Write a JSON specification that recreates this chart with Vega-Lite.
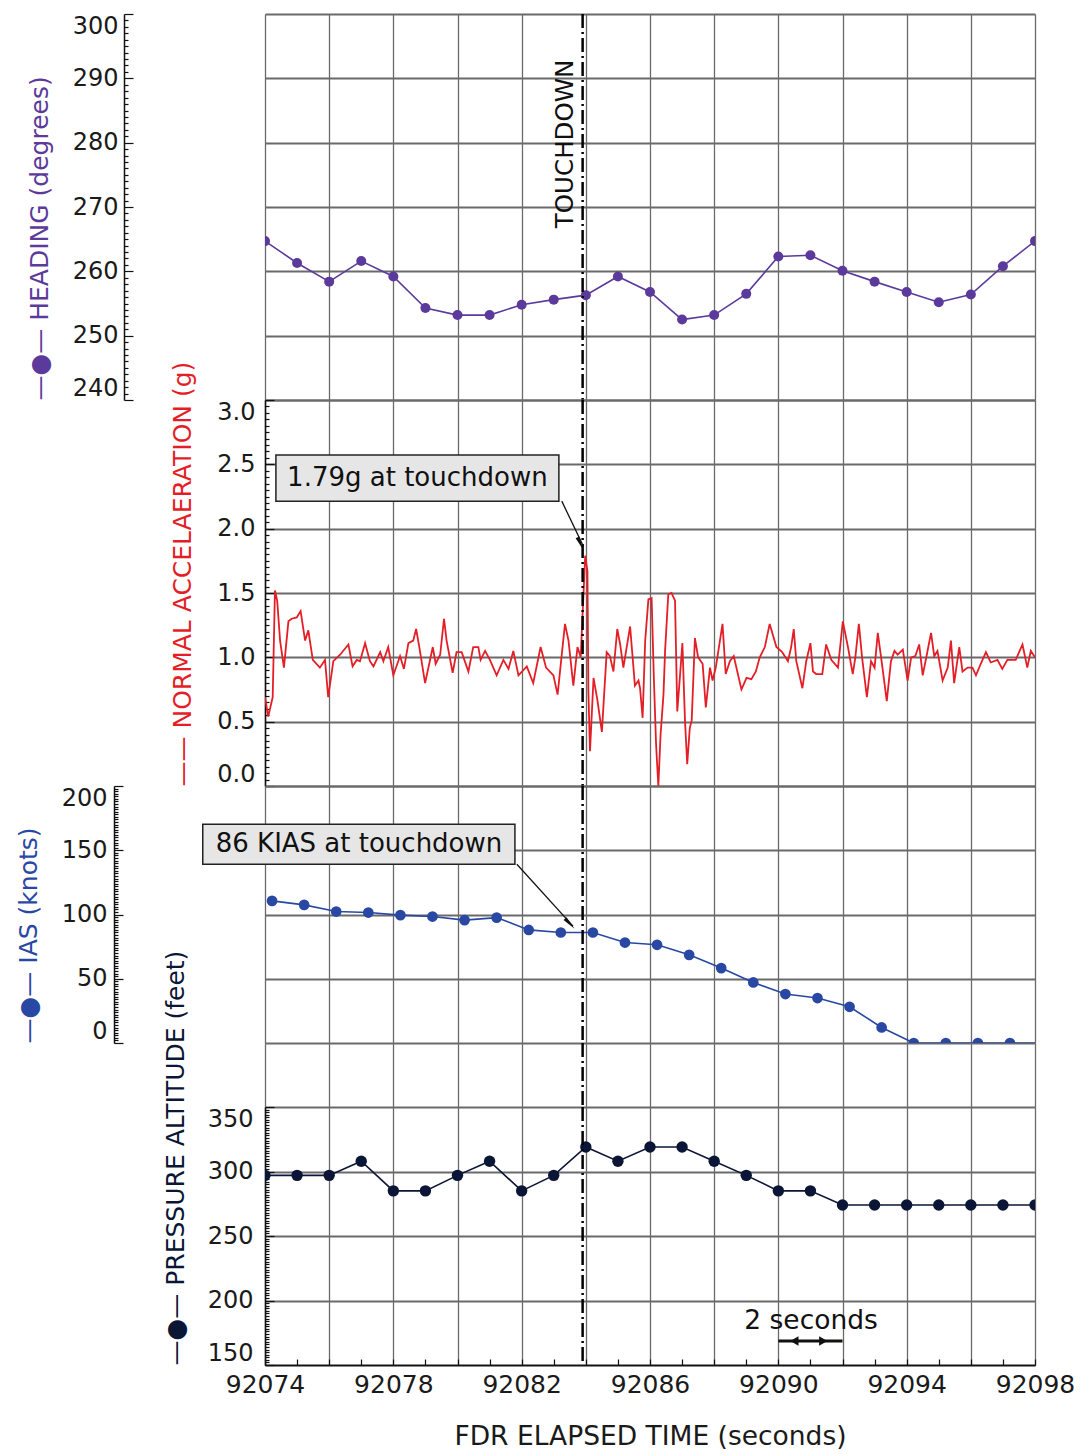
{
  "$schema": "https://vega.github.io/schema/vega-lite/v6.json",
  "background": "white",
  "padding": {"left": 16, "top": 8, "right": 0, "bottom": 0},
  "autosize": {"type": "pad"},
  "spacing": 0,
  "bounds": "flush",
  "config": {
    "font": "DejaVu Sans",
    "view": {"stroke": null},
    "axis": {
      "labelFont": "DejaVu Sans",
      "titleFont": "DejaVu Sans",
      "labelFontSize": 24,
      "titleFontSize": 25,
      "titleFontWeight": "normal",
      "labelColor": "#1a1a1a",
      "domainColor": "#111111",
      "domainWidth": 1.5,
      "tickColor": "#111111",
      "tickWidth": 1.2,
      "gridColor": "#6a6a6a",
      "labelOverlap": false,
      "labelBound": false
    },
    "text": {"font": "DejaVu Sans"}
  },
  "datasets": {
    "heading": [
      {"t": 92074, "v": 264.7}, {"t": 92075, "v": 261.3}, {"t": 92076, "v": 258.4}, {"t": 92077, "v": 261.6},
      {"t": 92078, "v": 259.2}, {"t": 92079, "v": 254.3}, {"t": 92080, "v": 253.2}, {"t": 92081, "v": 253.2},
      {"t": 92082, "v": 254.8}, {"t": 92083, "v": 255.6}, {"t": 92084, "v": 256.3}, {"t": 92085, "v": 259.2},
      {"t": 92086, "v": 256.8}, {"t": 92087, "v": 252.5}, {"t": 92088, "v": 253.2}, {"t": 92089, "v": 256.5},
      {"t": 92090, "v": 262.3}, {"t": 92091, "v": 262.5}, {"t": 92092, "v": 260.1}, {"t": 92093, "v": 258.4},
      {"t": 92094, "v": 256.8}, {"t": 92095, "v": 255.2}, {"t": 92096, "v": 256.4}, {"t": 92097, "v": 260.8},
      {"t": 92098, "v": 264.7}
    ],
    "accel": [
      {"t": 92074.00, "v": 0.69}, {"t": 92074.10, "v": 0.54}, {"t": 92074.24, "v": 0.69}, {"t": 92074.31, "v": 1.52},
      {"t": 92074.38, "v": 1.44}, {"t": 92074.47, "v": 1.13}, {"t": 92074.59, "v": 0.92}, {"t": 92074.73, "v": 1.28},
      {"t": 92074.83, "v": 1.30}, {"t": 92074.99, "v": 1.31}, {"t": 92075.11, "v": 1.36}, {"t": 92075.25, "v": 1.13},
      {"t": 92075.35, "v": 1.21}, {"t": 92075.49, "v": 0.98}, {"t": 92075.71, "v": 0.92}, {"t": 92075.87, "v": 0.98},
      {"t": 92075.97, "v": 0.69}, {"t": 92076.13, "v": 0.97}, {"t": 92076.34, "v": 1.02}, {"t": 92076.60, "v": 1.10},
      {"t": 92076.73, "v": 0.93}, {"t": 92076.86, "v": 0.98}, {"t": 92076.96, "v": 0.97}, {"t": 92077.12, "v": 1.11},
      {"t": 92077.27, "v": 0.97}, {"t": 92077.38, "v": 0.93}, {"t": 92077.59, "v": 1.04}, {"t": 92077.69, "v": 0.97},
      {"t": 92077.84, "v": 1.08}, {"t": 92078.00, "v": 0.86}, {"t": 92078.21, "v": 1.01}, {"t": 92078.33, "v": 0.91},
      {"t": 92078.47, "v": 1.11}, {"t": 92078.62, "v": 1.13}, {"t": 92078.71, "v": 1.22}, {"t": 92078.81, "v": 1.08},
      {"t": 92078.99, "v": 0.80}, {"t": 92079.23, "v": 1.08}, {"t": 92079.32, "v": 0.95}, {"t": 92079.46, "v": 1.02},
      {"t": 92079.58, "v": 1.30}, {"t": 92079.66, "v": 1.13}, {"t": 92079.85, "v": 0.88}, {"t": 92079.97, "v": 1.04},
      {"t": 92080.13, "v": 1.04}, {"t": 92080.34, "v": 0.89}, {"t": 92080.49, "v": 1.08}, {"t": 92080.65, "v": 1.08},
      {"t": 92080.72, "v": 0.98}, {"t": 92080.86, "v": 1.05}, {"t": 92081.01, "v": 0.98}, {"t": 92081.22, "v": 0.86},
      {"t": 92081.43, "v": 0.98}, {"t": 92081.59, "v": 0.91}, {"t": 92081.74, "v": 1.05}, {"t": 92081.90, "v": 0.86},
      {"t": 92082.16, "v": 0.93}, {"t": 92082.36, "v": 0.80}, {"t": 92082.59, "v": 1.08}, {"t": 92082.76, "v": 0.92},
      {"t": 92082.99, "v": 0.86}, {"t": 92083.12, "v": 0.71}, {"t": 92083.35, "v": 1.26}, {"t": 92083.46, "v": 1.13},
      {"t": 92083.61, "v": 0.78}, {"t": 92083.74, "v": 1.08}, {"t": 92083.84, "v": 1.00}, {"t": 92083.98, "v": 1.79},
      {"t": 92084.05, "v": 1.67}, {"t": 92084.08, "v": 0.73}, {"t": 92084.13, "v": 0.27}, {"t": 92084.24, "v": 0.84},
      {"t": 92084.36, "v": 0.67}, {"t": 92084.50, "v": 0.42}, {"t": 92084.65, "v": 1.04}, {"t": 92084.75, "v": 1.01},
      {"t": 92084.86, "v": 0.89}, {"t": 92084.98, "v": 1.22}, {"t": 92085.07, "v": 1.10}, {"t": 92085.17, "v": 0.92},
      {"t": 92085.38, "v": 1.24}, {"t": 92085.53, "v": 0.78}, {"t": 92085.64, "v": 0.82}, {"t": 92085.69, "v": 0.76},
      {"t": 92085.77, "v": 0.53}, {"t": 92085.85, "v": 1.13}, {"t": 92085.95, "v": 1.45}, {"t": 92086.05, "v": 1.46},
      {"t": 92086.12, "v": 0.84}, {"t": 92086.19, "v": 0.32}, {"t": 92086.26, "v": 0.00}, {"t": 92086.33, "v": 0.40},
      {"t": 92086.42, "v": 0.71}, {"t": 92086.47, "v": 1.05}, {"t": 92086.57, "v": 1.49}, {"t": 92086.67, "v": 1.50},
      {"t": 92086.78, "v": 1.44}, {"t": 92086.85, "v": 0.58}, {"t": 92086.93, "v": 0.84}, {"t": 92087.01, "v": 1.11},
      {"t": 92087.09, "v": 0.51}, {"t": 92087.16, "v": 0.17}, {"t": 92087.24, "v": 0.45}, {"t": 92087.30, "v": 0.51},
      {"t": 92087.40, "v": 1.15}, {"t": 92087.50, "v": 1.00}, {"t": 92087.64, "v": 0.95}, {"t": 92087.74, "v": 0.61},
      {"t": 92087.87, "v": 0.92}, {"t": 92087.95, "v": 0.82}, {"t": 92088.05, "v": 0.92}, {"t": 92088.18, "v": 1.13},
      {"t": 92088.26, "v": 1.26}, {"t": 92088.36, "v": 0.87}, {"t": 92088.49, "v": 0.97}, {"t": 92088.61, "v": 1.01},
      {"t": 92088.85, "v": 0.75}, {"t": 92089.01, "v": 0.84}, {"t": 92089.16, "v": 0.83}, {"t": 92089.30, "v": 0.89},
      {"t": 92089.42, "v": 1.00}, {"t": 92089.58, "v": 1.08}, {"t": 92089.73, "v": 1.26}, {"t": 92089.94, "v": 1.08},
      {"t": 92090.12, "v": 1.04}, {"t": 92090.30, "v": 0.97}, {"t": 92090.40, "v": 1.08}, {"t": 92090.48, "v": 1.22},
      {"t": 92090.56, "v": 0.97}, {"t": 92090.75, "v": 0.76}, {"t": 92090.87, "v": 0.97}, {"t": 92091.00, "v": 1.11},
      {"t": 92091.08, "v": 0.89}, {"t": 92091.18, "v": 0.87}, {"t": 92091.37, "v": 0.87}, {"t": 92091.49, "v": 1.10},
      {"t": 92091.65, "v": 0.98}, {"t": 92091.86, "v": 0.92}, {"t": 92092.01, "v": 1.28}, {"t": 92092.17, "v": 1.08},
      {"t": 92092.32, "v": 0.87}, {"t": 92092.40, "v": 1.00}, {"t": 92092.51, "v": 1.26}, {"t": 92092.61, "v": 1.00},
      {"t": 92092.76, "v": 0.69}, {"t": 92092.89, "v": 0.97}, {"t": 92093.00, "v": 0.92}, {"t": 92093.10, "v": 1.19},
      {"t": 92093.23, "v": 0.95}, {"t": 92093.38, "v": 0.66}, {"t": 92093.51, "v": 0.97}, {"t": 92093.62, "v": 1.05},
      {"t": 92093.72, "v": 1.02}, {"t": 92093.88, "v": 1.06}, {"t": 92094.03, "v": 0.82}, {"t": 92094.14, "v": 1.00},
      {"t": 92094.27, "v": 1.01}, {"t": 92094.39, "v": 1.10}, {"t": 92094.50, "v": 0.86}, {"t": 92094.62, "v": 1.01},
      {"t": 92094.76, "v": 1.19}, {"t": 92094.86, "v": 1.01}, {"t": 92094.96, "v": 1.05}, {"t": 92095.12, "v": 0.82},
      {"t": 92095.28, "v": 0.92}, {"t": 92095.38, "v": 1.13}, {"t": 92095.48, "v": 0.80}, {"t": 92095.64, "v": 1.08},
      {"t": 92095.74, "v": 0.89}, {"t": 92095.90, "v": 0.92}, {"t": 92096.05, "v": 0.92}, {"t": 92096.16, "v": 0.86},
      {"t": 92096.31, "v": 0.95}, {"t": 92096.47, "v": 1.04}, {"t": 92096.62, "v": 0.96}, {"t": 92096.83, "v": 0.98},
      {"t": 92096.98, "v": 0.91}, {"t": 92097.14, "v": 0.98}, {"t": 92097.40, "v": 0.98}, {"t": 92097.61, "v": 1.10},
      {"t": 92097.76, "v": 0.92}, {"t": 92097.87, "v": 1.05}, {"t": 92098.00, "v": 1.00}
    ],
    "ias": [
      {"t": 92074.22, "v": 110.6}, {"t": 92075.22, "v": 107.5}, {"t": 92076.22, "v": 102.3}, {"t": 92077.22, "v": 101.5},
      {"t": 92078.22, "v": 99.5}, {"t": 92079.22, "v": 98.4}, {"t": 92080.22, "v": 95.6}, {"t": 92081.22, "v": 97.6},
      {"t": 92082.22, "v": 88.0}, {"t": 92083.22, "v": 86.0}, {"t": 92084.22, "v": 86.0}, {"t": 92085.22, "v": 78.2},
      {"t": 92086.22, "v": 76.4}, {"t": 92087.22, "v": 68.6}, {"t": 92088.22, "v": 58.3}, {"t": 92089.22, "v": 47.1},
      {"t": 92090.22, "v": 38.1}, {"t": 92091.22, "v": 35.0}, {"t": 92092.22, "v": 28.2}, {"t": 92093.22, "v": 12.1},
      {"t": 92094.22, "v": 0}, {"t": 92095.22, "v": 0}, {"t": 92096.22, "v": 0}, {"t": 92097.22, "v": 0},
      {"t": 92098.22, "v": 0}
    ],
    "alt": [
      {"t": 92074, "v": 297}, {"t": 92075, "v": 297}, {"t": 92076, "v": 297}, {"t": 92077, "v": 308},
      {"t": 92078, "v": 285}, {"t": 92079, "v": 285}, {"t": 92080, "v": 297}, {"t": 92081, "v": 308},
      {"t": 92082, "v": 285}, {"t": 92083, "v": 297}, {"t": 92084, "v": 319}, {"t": 92085, "v": 308},
      {"t": 92086, "v": 319}, {"t": 92087, "v": 319}, {"t": 92088, "v": 308}, {"t": 92089, "v": 297},
      {"t": 92090, "v": 285}, {"t": 92091, "v": 285}, {"t": 92092, "v": 274}, {"t": 92093, "v": 274},
      {"t": 92094, "v": 274}, {"t": 92095, "v": 274}, {"t": 92096, "v": 274}, {"t": 92097, "v": 274},
      {"t": 92098, "v": 274}
    ],
    "td": [{"t": 92083.9}]
  },
  "vconcat": [
    {
      "width": 770,
      "height": 386,
      "layer": [
        {
          "data": {"name": "heading"},
          "mark": {"type": "line", "color": "#5b3a9b", "strokeWidth": 1.6, "clip": true, "point": {"filled": true, "size": 100, "color": "#5b3a9b"}},
          "encoding": {
            "x": {"field": "t", "type": "quantitative", "scale": {"domain": [92074, 92098], "nice": false, "zero": false},
              "axis": {"title": null, "labels": false, "ticks": false, "domain": false, "tickCount": 12, "grid": true, "gridWidth": 1.3}},
            "y": {"field": "v", "type": "quantitative", "scale": {"domain": [240, 300], "nice": false, "zero": false},
              "axis": {
                "title": "—●— HEADING (degrees)", "titleColor": "#5b3a9b", "titleAnchor": "start", "titlePadding": 20,
                "offset": 141, "tickCount": 60, "labelExpr": "datum.value % 10 === 0 ? datum.label : ''",
                "labelFlush": true, "labelPadding": 15,
                "tickSize": {"condition": {"test": "datum.value % 10 === 0", "value": -9}, "value": -4},
                "grid": true, "gridWidth": 2,
                "gridOpacity": {"condition": {"test": "datum.value % 10 === 0", "value": 1}, "value": 0}
              }}
          }
        },
        {
          "data": {"name": "td"},
          "mark": {"type": "rule", "color": "#000000", "strokeWidth": 2.5, "strokeDash": [14, 4, 2, 4]},
          "encoding": {"x": {"field": "t", "type": "quantitative"}}
        },
        {
          "data": {"values": [{"t": 92083.38, "v": 279.8, "label": "TOUCHDOWN"}]},
          "mark": {"type": "text", "angle": 270, "fontSize": 24.5, "color": "#111111", "align": "center", "baseline": "middle"},
          "encoding": {
            "x": {"field": "t", "type": "quantitative"},
            "y": {"field": "v", "type": "quantitative"},
            "text": {"field": "label"}
          }
        }
      ]
    },
    {
      "width": 770,
      "height": 386,
      "layer": [
        {
          "data": {"name": "accel"},
          "mark": {"type": "line", "color": "#e41e26", "strokeWidth": 1.8, "clip": true},
          "encoding": {
            "x": {"field": "t", "type": "quantitative", "scale": {"domain": [92074, 92098], "nice": false, "zero": false},
              "axis": {"title": null, "labels": false, "ticks": false, "domain": false, "tickCount": 12, "grid": true, "gridWidth": 1.3}},
            "y": {"field": "v", "type": "quantitative", "scale": {"domain": [0, 3], "nice": false, "zero": false},
              "axis": {
                "title": "—— NORMAL ACCELAERATION (g)", "titleColor": "#e41e26", "titleAnchor": "start", "titlePadding": 21,
                "offset": 0, "tickCount": 60, "format": ".1f",
                "labelExpr": "abs(datum.value * 2 - round(datum.value * 2)) < 0.000001 ? datum.label : ''",
                "labelFlush": true, "labelPadding": 19,
                "tickSize": {"condition": {"test": "abs(datum.value * 2 - round(datum.value * 2)) < 0.000001", "value": -9}, "value": -4},
                "grid": true, "gridWidth": 2,
                "gridOpacity": {"condition": {"test": "abs(datum.value * 2 - round(datum.value * 2)) < 0.000001", "value": 1}, "value": 0}
              }}
          }
        },
        {
          "data": {"name": "td"},
          "mark": {"type": "rule", "color": "#000000", "strokeWidth": 2.5, "strokeDash": [14, 4, 2, 4]},
          "encoding": {"x": {"field": "t", "type": "quantitative"}}
        },
        {
          "data": {"values": [{"t": 92074.34, "t2": 92083.16, "v": 2.572, "v2": 2.214}]},
          "mark": {"type": "rect", "fill": "#e6e6e6", "stroke": "#222222", "strokeWidth": 1.5},
          "encoding": {
            "x": {"field": "t", "type": "quantitative"}, "x2": {"field": "t2"},
            "y": {"field": "v", "type": "quantitative"}, "y2": {"field": "v2"}
          }
        },
        {
          "data": {"values": [{"t": 92078.75, "v": 2.393, "label": "1.79g at touchdown"}]},
          "mark": {"type": "text", "fontSize": 26, "color": "#111111", "align": "center", "baseline": "middle"},
          "encoding": {
            "x": {"field": "t", "type": "quantitative"},
            "y": {"field": "v", "type": "quantitative"},
            "text": {"field": "label"}
          }
        },
        {
          "data": {"values": [{"t": 92083.25, "t2": 92083.93, "v": 2.214, "v2": 1.86}]},
          "mark": {"type": "rule", "color": "#111111", "strokeWidth": 1.3},
          "encoding": {
            "x": {"field": "t", "type": "quantitative"}, "x2": {"field": "t2"},
            "y": {"field": "v", "type": "quantitative"}, "y2": {"field": "v2"}
          }
        },
        {
          "data": {"values": [{"t": 92083.80, "v": 1.90}]},
          "mark": {"type": "point", "shape": "wedge", "filled": true, "color": "#111111", "size": 260, "angle": 155, "opacity": 1},
          "encoding": {
            "x": {"field": "t", "type": "quantitative"},
            "y": {"field": "v", "type": "quantitative"}
          }
        }
      ]
    },
    {
      "width": 770,
      "height": 257,
      "layer": [
        {
          "data": {"name": "ias"},
          "mark": {"type": "line", "color": "#2948a3", "strokeWidth": 1.6, "clip": true, "point": {"filled": true, "size": 115, "color": "#2948a3"}},
          "encoding": {
            "x": {"field": "t", "type": "quantitative", "scale": {"domain": [92074, 92098], "nice": false, "zero": false},
              "axis": {"title": null, "labels": false, "ticks": false, "domain": false, "tickCount": 12, "grid": true, "gridWidth": 1.3}},
            "y": {"field": "v", "type": "quantitative", "scale": {"domain": [0, 200], "nice": false, "zero": false},
              "axis": {
                "title": "—●— IAS (knots)", "titleColor": "#2948a3", "titleAnchor": "start", "titlePadding": 20,
                "offset": 151, "tickCount": 100, "labelExpr": "datum.value % 50 === 0 ? datum.label : ''",
                "labelFlush": true, "labelPadding": 16,
                "tickSize": {"condition": {"test": "datum.value % 50 === 0", "value": -9}, "value": -4},
                "grid": true, "gridWidth": 2,
                "gridOpacity": {"condition": {"test": "datum.value % 50 === 0", "value": 1}, "value": 0}
              }}
          }
        },
        {
          "data": {"name": "td"},
          "mark": {"type": "rule", "color": "#000000", "strokeWidth": 2.5, "strokeDash": [14, 4, 2, 4]},
          "encoding": {"x": {"field": "t", "type": "quantitative"}}
        },
        {
          "data": {"values": [{"t": 92072.06, "t2": 92081.79, "v": 170.2, "v2": 139.1}]},
          "mark": {"type": "rect", "fill": "#e6e6e6", "stroke": "#222222", "strokeWidth": 1.5},
          "encoding": {
            "x": {"field": "t", "type": "quantitative"}, "x2": {"field": "t2"},
            "y": {"field": "v", "type": "quantitative"}, "y2": {"field": "v2"}
          }
        },
        {
          "data": {"values": [{"t": 92076.93, "v": 154.6, "label": "86 KIAS at touchdown"}]},
          "mark": {"type": "text", "fontSize": 26, "color": "#111111", "align": "center", "baseline": "middle"},
          "encoding": {
            "x": {"field": "t", "type": "quantitative"},
            "y": {"field": "v", "type": "quantitative"},
            "text": {"field": "label"}
          }
        },
        {
          "data": {"values": [{"t": 92081.85, "t2": 92083.6, "v": 139.1, "v2": 91.0}]},
          "mark": {"type": "rule", "color": "#111111", "strokeWidth": 1.3},
          "encoding": {
            "x": {"field": "t", "type": "quantitative"}, "x2": {"field": "t2"},
            "y": {"field": "v", "type": "quantitative"}, "y2": {"field": "v2"}
          }
        },
        {
          "data": {"values": [{"t": 92083.45, "v": 94.2}]},
          "mark": {"type": "point", "shape": "wedge", "filled": true, "color": "#111111", "size": 260, "angle": 137, "opacity": 1},
          "encoding": {
            "x": {"field": "t", "type": "quantitative"},
            "y": {"field": "v", "type": "quantitative"}
          }
        }
      ]
    },
    {
      "width": 770,
      "height": 64,
      "data": {"name": "td"},
      "mark": {"type": "rule", "color": "#000000", "strokeWidth": 2.5, "strokeDash": [14, 4, 2, 4]},
      "encoding": {
        "x": {"field": "t", "type": "quantitative", "scale": {"domain": [92074, 92098], "nice": false, "zero": false},
          "axis": {"title": null, "labels": false, "ticks": false, "domain": false, "tickCount": 12, "grid": true, "gridWidth": 1.3}}
      }
    },
    {
      "width": 770,
      "height": 258,
      "layer": [
        {
          "data": {"name": "alt"},
          "mark": {"type": "line", "color": "#0b1535", "strokeWidth": 1.6, "clip": true, "point": {"filled": true, "size": 130, "color": "#0b1535"}},
          "encoding": {
            "x": {"field": "t", "type": "quantitative", "scale": {"domain": [92074, 92098], "nice": false, "zero": false},
              "axis": {
                "title": "FDR ELAPSED TIME (seconds)", "titlePadding": 26, "titleColor": "#1a1a1a", "titleFontSize": 26.5,
                "tickCount": 120, "format": "d", "labelExpr": "datum.value % 4 === 2 ? datum.label : ''",
                "labelFontSize": 25, "labelPadding": 13, "labelFlush": false,
                "tickSize": {"condition": {"test": "datum.value % 1 === 0", "value": -6}, "value": -3},
                "grid": true, "gridWidth": 1.3,
                "gridOpacity": {"condition": {"test": "datum.value % 2 === 0", "value": 1}, "value": 0}
              }},
            "y": {"field": "v", "type": "quantitative", "scale": {"domain": [150, 350], "nice": false, "zero": false},
              "axis": {
                "title": "—●— PRESSURE ALTITUDE (feet)", "titleColor": "#0b1535", "titleAnchor": "start", "titlePadding": 19,
                "offset": 0, "tickCount": 100, "labelExpr": "datum.value % 50 === 0 ? datum.label : ''",
                "labelFlush": true, "labelPadding": 21,
                "tickSize": {"condition": {"test": "datum.value % 50 === 0", "value": -9}, "value": -4},
                "grid": true, "gridWidth": 2,
                "gridOpacity": {"condition": {"test": "datum.value % 50 === 0", "value": 1}, "value": 0}
              }}
          }
        },
        {
          "data": {"name": "td"},
          "mark": {"type": "rule", "color": "#000000", "strokeWidth": 2.5, "strokeDash": [14, 4, 2, 4]},
          "encoding": {"x": {"field": "t", "type": "quantitative"}}
        },
        {
          "data": {"values": [{"t": 92091.02, "v": 184.1, "label": "2 seconds"}]},
          "mark": {"type": "text", "fontSize": 26.5, "color": "#111111", "align": "center", "baseline": "middle"},
          "encoding": {
            "x": {"field": "t", "type": "quantitative"},
            "y": {"field": "v", "type": "quantitative"},
            "text": {"field": "label"}
          }
        },
        {
          "data": {"values": [{"t": 92090, "t2": 92092, "v": 168.6}]},
          "mark": {"type": "rule", "color": "#111111", "strokeWidth": 3},
          "encoding": {
            "x": {"field": "t", "type": "quantitative"}, "x2": {"field": "t2"},
            "y": {"field": "v", "type": "quantitative"}
          }
        },
        {
          "data": {"values": [{"t": 92090.5, "v": 168.6, "s": "triangle-left"}, {"t": 92091.4, "v": 168.6, "s": "triangle-right"}]},
          "mark": {"type": "point", "filled": true, "color": "#111111", "size": 90, "opacity": 1},
          "encoding": {
            "x": {"field": "t", "type": "quantitative"},
            "y": {"field": "v", "type": "quantitative"},
            "shape": {"field": "s", "type": "nominal", "scale": null}
          }
        }
      ]
    }
  ]
}
